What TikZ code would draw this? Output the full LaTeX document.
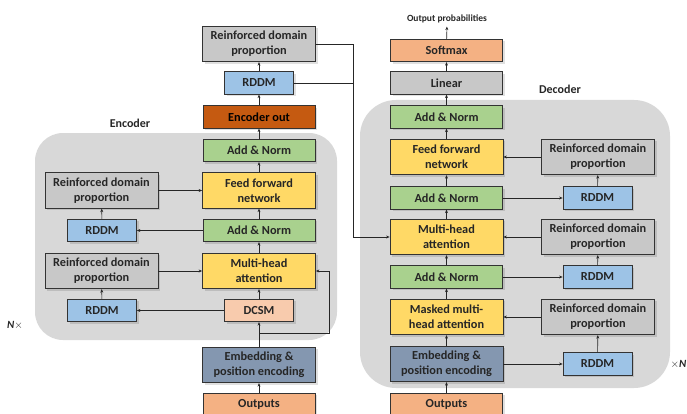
\documentclass[tikz,border=0pt]{standalone}
\usepackage{fontspec}
\setmainfont{Carlito}
\usetikzlibrary{arrows.meta,shadows}
\definecolor{boxgray}{RGB}{200,200,200}
\definecolor{regiongray}{RGB}{216,216,216}
\definecolor{rddmblue}{RGB}{157,195,230}
\definecolor{ffnyellow}{RGB}{255,217,102}
\definecolor{normgreen}{RGB}{169,209,142}
\definecolor{encorange}{RGB}{197,90,17}
\definecolor{embblue}{RGB}{132,151,176}
\definecolor{dcsmpeach}{RGB}{248,203,173}
\definecolor{outpeach}{RGB}{244,177,131}
\begin{document}
\begin{tikzpicture}[x=1pt, y=1pt,
	box/.style={draw=black!80, line width=0.8pt, align=center, inner sep=0pt, text=black!85,
		font=\fontsize{12.3}{15}\selectfont\bfseries,
		drop shadow={shadow xshift=2pt, shadow yshift=-2pt, fill=black, opacity=0.12}},
	widebox/.style={box, minimum width=112pt, minimum height=22.5pt},
	tallbox/.style={box, minimum width=113pt, minimum height=35.5pt},
	smallbox/.style={box, minimum width=69pt, minimum height=22.5pt},
	arr/.style={-{Stealth[length=3.5pt,width=3pt]}, line width=0.6pt, draw=black!85},
	link/.style={line width=0.6pt, draw=black!85}]
	\useasboundingbox (0,0) rectangle (687,413);

	\fill[regiongray, rounded corners=28pt] (35,73) rectangle (337,280);
	\fill[regiongray, rounded corners=36pt] (360,25) rectangle (670,313);
	\node[font=\fontsize{12}{14}\selectfont\bfseries, text=black!85] (enclabel) at (130,290) {Encoder};
	\node[font=\fontsize{12}{14}\selectfont\bfseries, text=black!85] (declabel) at (560,324) {Decoder};
	\node[font=\fontsize{11}{13}\selectfont, text=black!85] (encn) at (15,88) {\textbf{\textit{N}}$\times$};
	\node[font=\fontsize{11}{13}\selectfont, text=black!85, anchor=east, inner xsep=0.5pt] (decn) at (687,49) {$\times$\textbf{\textit{N}}};

	% encoder
	\node[tallbox, fill=boxgray] (erdptop) at (259,369) {Reinforced domain\\proportion};
	\node[smallbox, fill=rddmblue] (erddmtop) at (259,330) {RDDM};
	\node[widebox, fill=encorange, text=black] (eout) at (259,296) {Encoder out};
	\node[widebox, fill=normgreen] (ean2) at (259,262.5) {Add \& Norm};
	\node[tallbox, fill=ffnyellow] (effn) at (259,222.5) {Feed forward\\network};
	\node[widebox, fill=normgreen] (ean1) at (259,182.5) {Add \& Norm};
	\node[tallbox, fill=ffnyellow] (emha) at (259,142) {Multi-head\\attention};
	\node[smallbox, fill=dcsmpeach] (edcsm) at (259,102.5) {DCSM};
	\node[tallbox, fill=embblue] (eemb) at (259,48) {Embedding \&\\position encoding};
	\node[widebox, fill=outpeach] (einput) at (259,8.5) {Outputs};
	\node[tallbox, fill=boxgray] (erdp1) at (101.5,222.5) {Reinforced domain\\proportion};
	\node[smallbox, fill=rddmblue] (erddm1) at (102,182.5) {RDDM};
	\node[tallbox, fill=boxgray] (erdp2) at (101.5,142) {Reinforced domain\\proportion};
	\node[smallbox, fill=rddmblue] (erddm2) at (102,102.5) {RDDM};
	\coordinate (esplit) at (259,80);

	\draw[arr] (einput) -- (eemb);
	\draw[arr] (eemb) -- (edcsm);
	\draw[arr] (edcsm) -- (emha);
	\draw[arr] (emha) -- (ean1);
	\draw[arr] (ean1) -- (effn);
	\draw[arr] (effn) -- (ean2);
	\draw[arr] (ean2) -- (eout);
	\draw[arr] (eout) -- (erddmtop);
	\draw[arr] (erddmtop) -- (erdptop);
	\draw[arr] (esplit) -| (329,142) -- (emha.east);
	\draw[arr] (edcsm) -- (erddm2);
	\draw[arr] (erddm2) -- (erdp2);
	\draw[arr] (erdp2) -- (emha);
	\draw[arr] (ean1) -- (erddm1);
	\draw[arr] (erddm1) -- (erdp1);
	\draw[arr] (erdp1) -- (effn);

	% decoder
	\node[font=\fontsize{9.5}{11}\selectfont\bfseries, text=black!85] (outprob) at (447,394) {Output probabilities};
	\node[widebox, fill=outpeach] (dsoft) at (446.5,362.5) {Softmax};
	\node[widebox, fill=boxgray] (dlin) at (446.5,330) {Linear};
	\node[widebox, fill=normgreen] (dan3) at (446.5,296) {Add \& Norm};
	\node[tallbox, fill=ffnyellow] (dffn) at (446.5,256) {Feed forward\\network};
	\node[widebox, fill=normgreen] (dan2) at (446.5,215) {Add \& Norm};
	\node[tallbox, fill=ffnyellow] (dmha) at (446.5,176) {Multi-head\\attention};
	\node[widebox, fill=normgreen] (dan1) at (446.5,136) {Add \& Norm};
	\node[tallbox, fill=ffnyellow] (dmmha) at (446.5,96) {Masked multi-\\head attention};
	\node[tallbox, fill=embblue] (demb) at (446.5,49) {Embedding \&\\position encoding};
	\node[widebox, fill=outpeach] (dinput) at (446.5,8.5) {Outputs};
	\node[tallbox, fill=boxgray] (drdp3) at (598,256) {Reinforced domain\\proportion};
	\node[smallbox, fill=rddmblue] (drddm3) at (597.5,215) {RDDM};
	\node[tallbox, fill=boxgray] (drdp2) at (598,176) {Reinforced domain\\proportion};
	\node[smallbox, fill=rddmblue] (drddm2) at (597.5,136) {RDDM};
	\node[tallbox, fill=boxgray] (drdp1) at (598,96) {Reinforced domain\\proportion};
	\node[smallbox, fill=rddmblue] (drddm1) at (597.5,49) {RDDM};
	\coordinate (djoin) at (353,330);

	\draw[arr] (dinput) -- (demb);
	\draw[arr] (demb) -- (dmmha);
	\draw[arr] (dmmha) -- (dan1);
	\draw[arr] (dan1) -- (dmha);
	\draw[arr] (dmha) -- (dan2);
	\draw[arr] (dan2) -- (dffn);
	\draw[arr] (dffn) -- (dan3);
	\draw[arr] (dan3) -- (dlin);
	\draw[arr] (dlin) -- (dsoft);
	\draw[arr] (dsoft) -- (outprob);
	\draw[arr] (demb) -- (drddm1);
	\draw[arr] (drddm1) -- (drdp1);
	\draw[arr] (drdp1) -- (dmmha);
	\draw[arr] (dan1) -- (drddm2);
	\draw[arr] (drddm2) -- (drdp2);
	\draw[arr] (drdp2) -- (dmha);
	\draw[arr] (dan2) -- (drddm3);
	\draw[arr] (drddm3) -- (drdp3);
	\draw[arr] (drdp3) -- (dffn);

	% encoder to decoder
	\draw[link] (erdptop.east) -| (djoin);
	\draw[link] (erddmtop.east) -- (djoin);
	\draw[arr] (djoin) |- (dmha.west);
\end{tikzpicture}
\end{document}
